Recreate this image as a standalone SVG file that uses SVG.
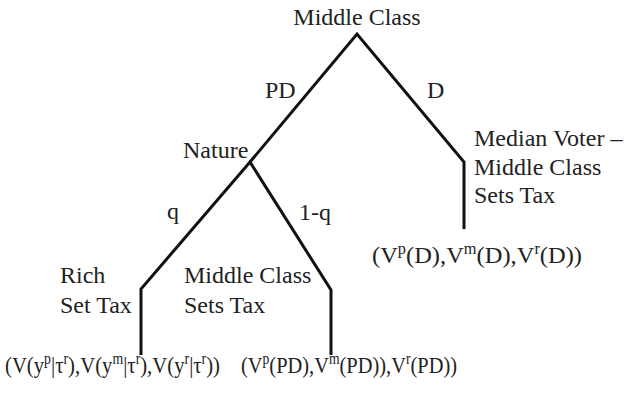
<svg xmlns="http://www.w3.org/2000/svg" width="626" height="397" viewBox="0 0 626 397">
<style>
text{font-family:"Liberation Serif","Times New Roman",serif;font-size:24px;fill:#222}
.s{font-size:16px}
.e{fill:none;stroke:#111;stroke-width:3;stroke-linejoin:miter}
</style>
<rect width="626" height="397" fill="#fff"/>
<g id="connectors">
<polyline class="e" points="250,162 357,34 464,162 464,229"/>
<polyline class="e" points="141,355 141,289 250,162 331,290 331,355"/>
</g>
<g id="root"><text x="357" y="25" text-anchor="middle">Middle Class</text></g>
<g id="label-pd"><text x="265" y="98">PD</text></g>
<g id="label-d"><text x="427" y="98">D</text></g>
<g id="nature"><text x="183" y="158">Nature</text></g>
<g id="median"><text x="474" y="146">Median Voter –</text><text x="474" y="175">Middle Class</text><text x="474" y="203">Sets Tax</text></g>
<g id="payoff-d"><text x="372" y="263" textLength="210" lengthAdjust="spacingAndGlyphs">(V<tspan class="s" dy="-9">p</tspan><tspan dy="9">(D),V</tspan><tspan class="s" dy="-9">m</tspan><tspan dy="9">(D),V</tspan><tspan class="s" dy="-9">r</tspan><tspan dy="9">(D))</tspan></text></g>
<g id="label-q"><text x="167" y="219">q</text></g>
<g id="label-1q"><text x="299" y="220">1-q</text></g>
<g id="rich"><text x="60" y="283">Rich</text><text x="60" y="313">Set Tax</text></g>
<g id="middle"><text x="184" y="283">Middle Class</text><text x="184" y="313">Sets Tax</text></g>
<g id="payoff-rich"><text x="5" y="373" textLength="215" lengthAdjust="spacingAndGlyphs">(V(y<tspan class="s" dy="-9">p</tspan><tspan dy="9">|τ</tspan><tspan class="s" dy="-9">r</tspan><tspan dy="9">),V(y</tspan><tspan class="s" dy="-9">m</tspan><tspan dy="9">|τ</tspan><tspan class="s" dy="-9">r</tspan><tspan dy="9">),V(y</tspan><tspan class="s" dy="-9">r</tspan><tspan dy="9">|τ</tspan><tspan class="s" dy="-9">r</tspan><tspan dy="9">))</tspan></text></g>
<g id="payoff-mc"><text x="241" y="373" textLength="216" lengthAdjust="spacingAndGlyphs">(V<tspan class="s" dy="-9">p</tspan><tspan dy="9">(PD),V</tspan><tspan class="s" dy="-9">m</tspan><tspan dy="9">(PD)),V</tspan><tspan class="s" dy="-9">r</tspan><tspan dy="9">(PD))</tspan></text></g>
</svg>
